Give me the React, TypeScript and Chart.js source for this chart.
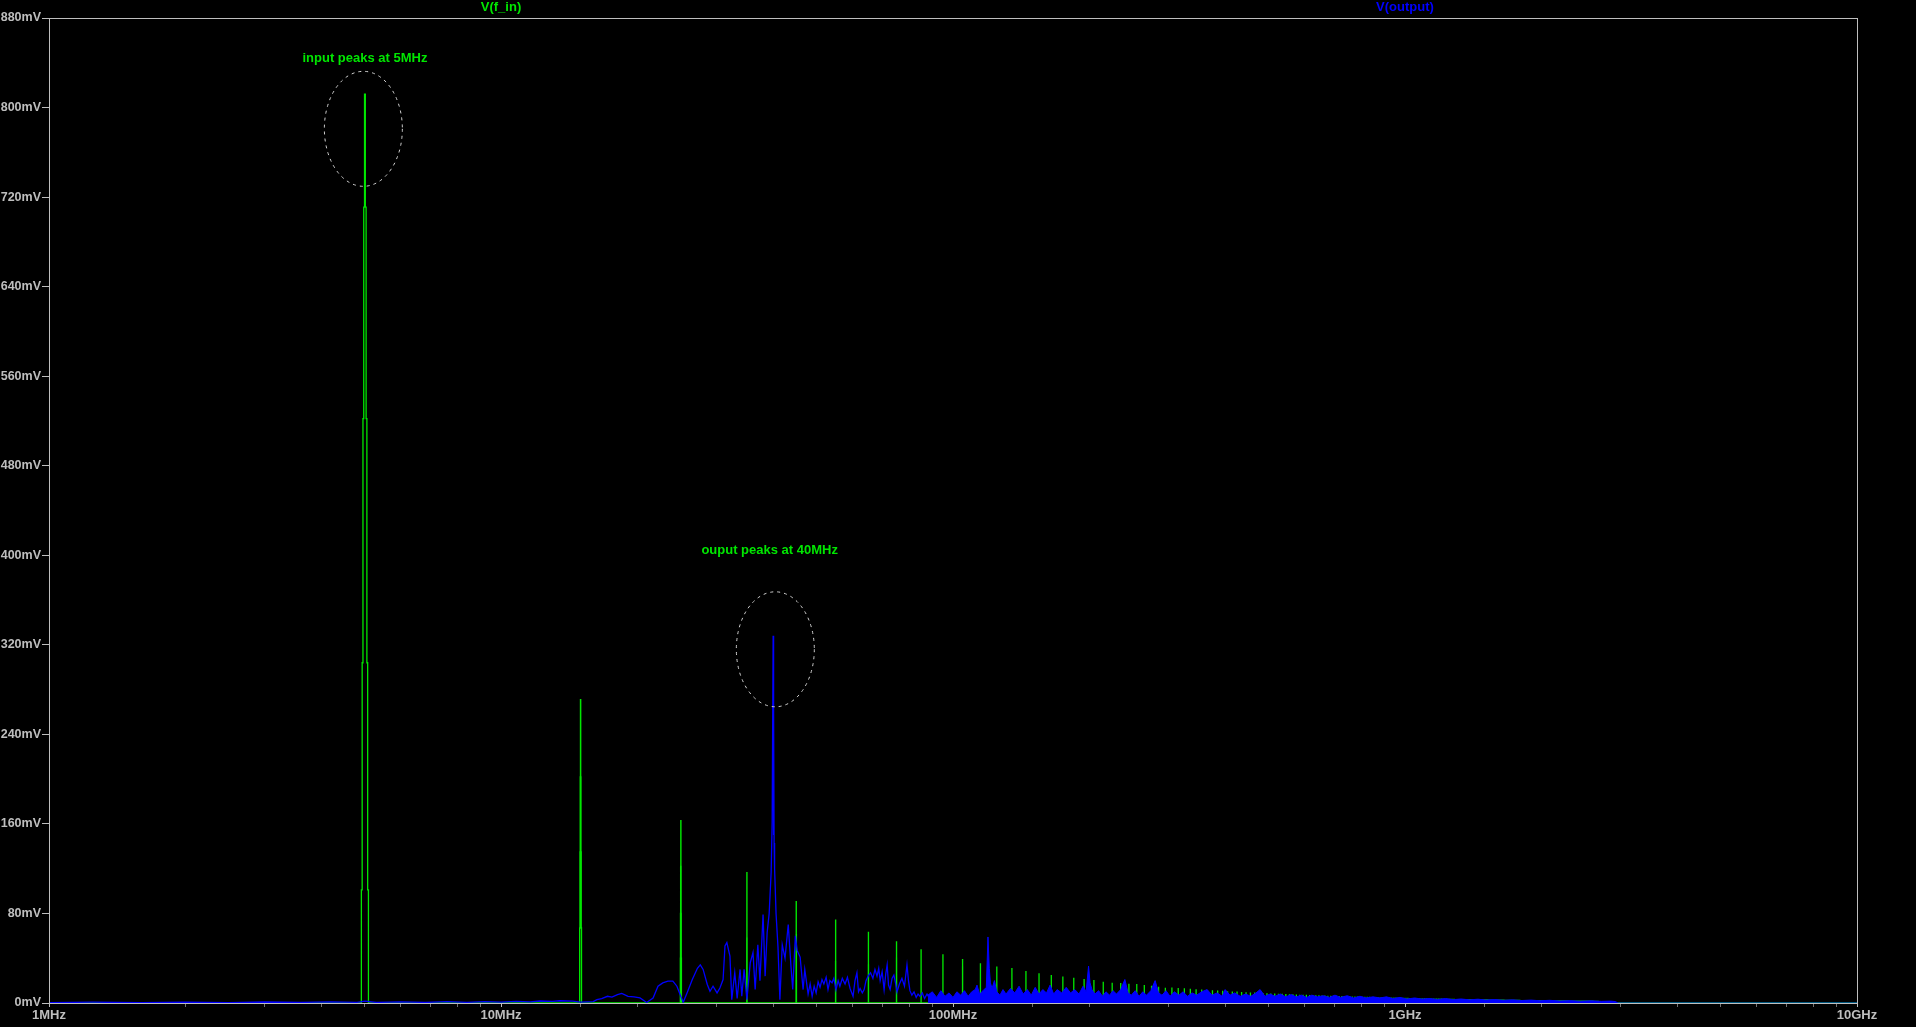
import React, { useEffect, useRef } from 'react';
import { Chart, registerables } from 'chart.js';

Chart.register(...registerables);

// ---------------- data ----------------
const X_MIN_MHZ = 1;
const X_MAX_MHZ = 10000;

// x-axis tick labels (values in MHz)
const xTickValues = [1, 10, 100, 1000, 10000];
const xTickLabels = ['1MHz', '10MHz', '100MHz', '1GHz', '10GHz'];

// y-axis ticks (mV)
const yTickValues = [0, 80, 160, 240, 320, 400, 480, 560, 640, 720, 800, 880];

// V(f_in): square-wave input, odd harmonics of the fundamental
const FUNDAMENTAL_MHZ = 5;
const BIN_MHZ = 0.02;
// peak height (mV) of harmonic 1, 3, 5, 7, ...
const greenPeaks = [
  812, 271, 163, 116.5, 90.6, 74, 63, 54.5, 47.5, 43, 38.7, 35, 32, 30.7, 28, 26, 24.4, 23, 22, 20.8,
  19.9, 18.5, 17.6, 17.2, 16.7, 16.4, 15.5, 14.9, 14, 13.1, 13.3, 12.9, 12.5, 12.1, 11.8, 11.4, 11.1, 10.8, 10.5, 10.3,
  10.0, 9.8, 9.6, 9.3, 9.1, 8.9, 8.7, 8.5, 8.4, 8.2,
  8.0, 7.9, 7.7, 7.6, 7.4, 7.3, 7.2, 7.1, 6.9, 6.8, 6.7, 6.6, 6.5, 6.4, 6.3, 6.2, 6.1, 6.0, 5.9, 5.8,
  5.8, 5.7, 5.6, 5.5, 5.4, 5.4, 5.3, 5.2, 5.2, 5.1, 5.0, 5.0, 4.9, 4.9, 4.8, 4.7, 4.7, 4.6, 4.6, 4.5,
  4.5, 4.4, 4.4, 4.3, 4.3, 4.3, 4.2, 4.2, 4.1, 4.1,
  4.0, 4.0, 3.9, 3.9, 3.9, 3.8, 3.8, 3.8, 3.7, 3.7, 3.7, 3.6, 3.6, 3.6, 3.5, 3.5, 3.5, 3.5, 3.4, 3.4,
  3.4, 3.3, 3.3, 3.3, 3.3, 3.2, 3.2, 3.2, 3.2, 3.1, 3.1, 3.1, 3.1, 3.0, 3.0, 3.0, 3.0, 3.0, 2.9, 2.9,
  2.9, 2.9, 2.9, 2.8, 2.8, 2.8, 2.8, 2.8, 2.7, 2.7,
  2.7, 2.7, 2.7, 2.6, 2.6, 2.6, 2.6, 2.6, 2.6, 2.5, 2.5, 2.5, 2.5, 2.5, 2.5, 2.5, 2.4, 2.4, 2.4, 2.4,
  2.4, 2.4, 2.3, 2.3, 2.3, 2.3, 2.3, 2.3, 2.3, 2.3, 2.2, 2.2, 2.2, 2.2, 2.2, 2.2, 2.2, 2.2, 2.1, 2.1,
  2.1, 2.1, 2.1, 2.1, 2.1, 2.1, 2.1, 2.0, 2.0, 2.0,
  2.0, 2.0, 2.0, 2.0, 2.0, 2.0, 2.0, 1.9, 1.9, 1.9, 1.9, 1.9, 1.9, 1.9, 1.9, 1.9, 1.9, 1.8, 1.8, 1.8,
  1.8, 1.8, 1.8, 1.8, 1.8, 1.8, 1.8, 1.8, 1.8, 1.8, 1.7, 1.7, 1.7, 1.7, 1.7, 1.7, 1.7, 1.7, 1.7, 1.7,
  1.7, 1.7, 1.7, 1.7, 1.7, 1.7, 1.6, 1.6, 1.6, 1.6,
  1.6, 1.6, 1.6, 1.6, 1.6, 1.6, 1.6, 1.6, 1.6, 1.6, 1.6, 1.5, 1.5, 1.5, 1.5, 1.5, 1.5, 1.5,
];
// neighbouring FFT bins (mV), nearest first, for the first harmonics
const greenShoulders = [
  [711, 522, 304, 101],
  [202, 135, 67],
  [122, 80, 40],
  [58],
  [61, 20],
  [37],
  [34],
  [40],
  [],
  [],
  [32],
];

// V(output): spectrum below ~90 MHz (drawn as a line)
const blueLowFreqs = [
  1.0, 1.25, 1.6, 2.0, 2.5, 3.0, 3.6, 4.2, 4.8, 5.0, 5.3, 6.0, 6.8, 7.6, 8.4, 9.2, 10.0, 10.8, 11.6, 12.2,
  13.0, 13.5, 14.4, 15.0, 16.0, 16.3, 16.7, 17.2, 17.6, 18.1, 18.5, 19.1, 19.7, 20.3, 21.0, 21.7, 22.25, 22.8, 23.4, 24.0,
  24.5, 24.9, 25.3, 25.8, 26.5, 27.2, 27.6, 28.0, 28.6, 29.0, 29.45, 30.06, 30.5, 31.0, 31.3, 31.6, 32.1, 32.4, 32.9, 33.3,
  33.8, 34.1, 34.5, 35.0, 35.6, 36.1, 36.5, 37.0, 37.4, 38.0, 38.4, 38.8, 39.2, 39.6, 39.8, 40.0, 40.07, 40.12, 40.2, 40.3,
  40.6, 41.0, 41.4, 41.9, 42.5, 43.2, 43.8, 44.2, 44.8, 45.2, 45.9, 46.6, 47.0, 47.8, 48.3, 48.8, 49.3, 49.8, 50.3, 50.8,
  51.3, 51.8, 52.4, 52.9, 53.4, 54.0, 54.5, 55.1, 55.7, 56.2, 56.9, 57.7, 58.4, 59.2, 60.1, 60.7, 61.3, 61.8, 62.3, 63.0,
  63.6, 64.2, 64.9, 65.7, 66.5, 67.2, 67.9, 68.5, 69.0, 69.7, 70.4, 71.0, 71.5, 72.0, 72.6, 73.3, 74.0, 74.6, 75.2, 76.1,
  77.1, 78.1, 79.1, 79.7, 80.3, 81.1, 82.0, 82.9, 83.7, 84.5, 85.5, 86.5, 87.6, 88.5,
];
const blueLowValues = [
  0.4, 0.7, 0.3, 0.8, 0.4, 0.9, 0.5, 1.0, 0.6, 1.6, 0.5, 1.0, 0.5, 1.2, 0.6, 1.3, 0.7, 1.5, 1.0, 1.8,
  1.5, 2.0, 1.6, 0.8, 1.2, 3.0, 4.0, 6.0, 5.2, 7.5, 8.5, 6.0, 5.5, 4.5, 0.5, 4.5, 15, 18, 19.5, 19.5,
  15, 7.5, 0.6, 9, 21, 31, 34, 30, 16.5, 10.5, 15, 9, 13.4, 21, 51, 54, 42, 3, 27, 4,
  30, 6, 30, 3, 36, 45, 12, 52, 20, 79, 24, 63, 80, 117, 161, 328, 150, 259, 143, 120,
  80, 50, 3, 52, 40, 70, 33, 12, 60, 47, 41, 12, 30, 8, 17, 6, 15, 9, 19, 14,
  21, 17, 23, 12, 20, 18, 22, 12, 20, 15, 22, 17, 23, 13, 6, 20, 27, 10, 13, 9,
  12, 20, 24, 27, 22, 30, 24, 31, 20, 28, 12, 26, 34, 16, 12, 22, 25, 18, 10, 17,
  22, 15, 34, 20, 11, 7, 10, 5, 8, 6, 9, 4, 8, 5,
];

// V(output): dense spectrum above ~90 MHz (drawn filled)
const blueHighFreqs = [
  88, 90, 92, 94, 96, 98, 100, 102, 104, 106, 108, 110, 112, 113, 114.5, 116.5, 118.5, 119.5, 120.3, 121,
  122, 123.5, 125, 127, 129, 131, 134, 137, 140, 143, 146, 149, 152, 155, 158, 161, 164, 167, 170, 174,
  178, 182, 186, 190, 194, 197, 199.5, 201, 203, 206, 210, 214, 218, 222, 226, 230, 235, 240, 244, 248,
  253, 258, 263, 268, 274, 280, 285, 290, 296, 302, 309, 316, 323, 330, 338, 346, 355, 365, 374, 384,
  394, 400, 410, 420, 432, 444, 456, 468, 478, 490, 503, 516, 530, 545, 560, 575, 590, 606, 622, 640,
  660, 680, 700, 720, 745, 770, 795, 820, 850, 880, 910, 940, 975, 1010, 1050, 1090, 1130, 1180, 1230, 1280,
  1330, 1390, 1450, 1510, 1580, 1650, 1730, 1810, 1900, 1990, 2090, 2200, 2320, 2440, 2580, 2720, 2850, 2920, 2960, 10000,
];
const blueHighValues = [
  7, 10, 5, 11, 6, 9, 5, 10, 7, 11, 6, 10, 12, 16, 8, 11, 14, 59, 31, 18,
  13, 20, 10, 7, 12, 8, 13, 9, 15, 8, 12, 7, 14, 8, 12, 9, 16, 8, 12, 9,
  14, 9, 12, 8, 15, 10, 33, 18, 12, 8, 11, 6, 10, 7, 11, 8, 12, 21, 9, 7,
  11, 6, 10, 7, 11, 20, 9, 7, 11, 6, 10, 7, 10, 6, 9, 7, 10, 12, 7, 9,
  6, 12, 7, 9, 6, 8, 6, 9, 12, 6, 8, 6, 8, 5.5, 7.5, 5.5, 7, 5, 7, 5.5,
  6.5, 5, 7, 5, 6.5, 4.5, 6, 4.5, 5.5, 4.5, 5.5, 4, 5, 3.5, 4.5, 3.5, 4, 3.2, 4, 3,
  3.6, 2.8, 3.4, 2.6, 3.1, 2.4, 2.8, 2.2, 2.6, 2, 2.4, 1.8, 2.1, 1.6, 1.9, 1.5, 1.7, 1.3, 0, 0,
];

// trace names above the plot, placed at a frequency
const traceHeaders = [
  { text: 'V(f_in)', freq: 10, color: '#00e600' },
  { text: 'V(output)', freq: 1000, color: '#0000ff' },
];

// annotations
const noteTexts = ['input peaks at 5MHz', 'ouput peaks at 40MHz'];
const noteFreqs = [5, 39.3];
const noteMv = [844, 404];
const ellipseFreqs = [4.96, 40.45];
const ellipseMv = [781, 316];

// ---------------- styles ----------------
const GREEN = '#00e600';
const BLUE = '#0000ff';
const AXIS = '#bebebe';
const TEXT = '#bebebe';
const FONT_FAMILY = "'Liberation Sans', Arial, sans-serif";

function buildGreen() {
  const pts: { x: number; y: number }[] = [{ x: X_MIN_MHZ, y: 0 }];
  greenPeaks.forEach((peak, i) => {
    const f = FUNDAMENTAL_MHZ * (2 * i + 1);
    const sh = greenShoulders[i] || [];
    const n = sh.length;
    pts.push({ x: f - (n + 1) * BIN_MHZ, y: 0 });
    for (let k = n; k >= 1; k--) pts.push({ x: f - k * BIN_MHZ, y: sh[k - 1] });
    pts.push({ x: f, y: peak });
    for (let k = 1; k <= n; k++) pts.push({ x: f + k * BIN_MHZ, y: sh[k - 1] });
    pts.push({ x: f + (n + 1) * BIN_MHZ, y: 0 });
  });
  pts.push({ x: X_MAX_MHZ, y: 0 });
  return pts;
}

function zip(xs: number[], ys: number[]) {
  return xs.map((x, i) => ({ x, y: ys[i] }));
}

const isDecade = (v: number) => Math.abs(Math.log10(v) - Math.round(Math.log10(v))) < 1e-9;

const overlayPlugin = {
  id: 'ltspiceOverlay',
  afterDatasetsDraw(chart: any) {
    const { ctx, chartArea: a, scales } = chart;
    const x = scales.x;
    const y = scales.y;
    ctx.save();
    // frame
    ctx.strokeStyle = AXIS;
    ctx.lineWidth = 1;
    ctx.strokeRect(
      Math.round(a.left) + 0.5,
      Math.round(a.top) + 0.5,
      Math.round(a.right - a.left),
      Math.round(a.bottom - a.top)
    );
    // dashed ellipses
    ctx.setLineDash([3, 4]);
    ctx.strokeStyle = '#d2d2d2';
    for (let i = 0; i < ellipseFreqs.length; i++) {
      ctx.beginPath();
      ctx.ellipse(x.getPixelForValue(ellipseFreqs[i]), y.getPixelForValue(ellipseMv[i]), 39, 57.5, 0, 0, Math.PI * 2);
      ctx.stroke();
    }
    ctx.setLineDash([]);
    // annotation texts
    ctx.font = `bold 13px ${FONT_FAMILY}`;
    ctx.textAlign = 'center';
    ctx.textBaseline = 'middle';
    ctx.fillStyle = GREEN;
    for (let i = 0; i < noteTexts.length; i++) {
      ctx.fillText(noteTexts[i], x.getPixelForValue(noteFreqs[i]), y.getPixelForValue(noteMv[i]));
    }
    // trace headers
    for (const h of traceHeaders) {
      ctx.fillStyle = h.color;
      ctx.fillText(h.text, x.getPixelForValue(h.freq), a.top - 11);
    }
    ctx.restore();
  },
};

export default function App() {
  const canvasRef = useRef<HTMLCanvasElement | null>(null);

  useEffect(() => {
    const canvas = canvasRef.current;
    if (!canvas) return;
    const chart = new Chart(canvas, {
      type: 'line',
      data: {
        datasets: [
          {
            label: 'V(output) high',
            data: zip(blueHighFreqs, blueHighValues),
            borderColor: BLUE,
            backgroundColor: BLUE,
            borderWidth: 1,
            pointRadius: 0,
            fill: 'origin',
            tension: 0,
            order: 1,
          },
          {
            label: 'V(output)',
            data: zip(blueLowFreqs, blueLowValues),
            borderColor: BLUE,
            borderWidth: 1.3,
            pointRadius: 0,
            fill: false,
            tension: 0,
            order: 1,
          },
          {
            label: 'V(f_in)',
            data: buildGreen(),
            borderColor: GREEN,
            borderWidth: 1.3,
            pointRadius: 0,
            fill: false,
            stepped: 'middle',
            order: 2,
          },
        ],
      },
      options: {
        animation: false,
        responsive: false,
        devicePixelRatio: 1,
        events: [],
        layout: { padding: { top: 18, right: 59, left: 0, bottom: 0 } },
        plugins: { legend: { display: false }, tooltip: { enabled: false } },
        scales: {
          x: {
            type: 'logarithmic',
            min: X_MIN_MHZ,
            max: X_MAX_MHZ,
            afterFit: (s: any) => {
              s.height = 24;
            },
            border: { display: true, color: AXIS, width: 1 },
            grid: {
              display: true,
              drawOnChartArea: false,
              drawTicks: true,
              tickLength: 4,
              color: (c: any) => (c.tick && isDecade(c.tick.value) ? AXIS : '#707070'),
            },
            ticks: {
              autoSkip: false,
              maxRotation: 0,
              minRotation: 0,
              padding: 1,
              color: TEXT,
              font: { family: FONT_FAMILY, size: 13, weight: 'bold' },
              callback: (v: any) => {
                const i = xTickValues.findIndex((t) => Math.abs(t - Number(v)) < 1e-6);
                return i >= 0 ? xTickLabels[i] : '';
              },
            },
          },
          y: {
            type: 'linear',
            min: 0,
            max: 880,
            afterFit: (s: any) => {
              s.width = 49;
            },
            afterBuildTicks: (s: any) => {
              s.ticks = yTickValues.map((v) => ({ value: v }));
            },
            border: { display: true, color: AXIS, width: 1 },
            grid: { display: true, drawOnChartArea: false, drawTicks: true, tickLength: 7, color: AXIS },
            ticks: {
              padding: 1,
              color: TEXT,
              font: { family: FONT_FAMILY, size: 12.5, weight: 'bold' },
              callback: (v: any) => `${v}mV`,
            },
          },
        },
      },
      plugins: [overlayPlugin],
    });
    return () => chart.destroy();
  }, []);

  return (
    <div style={{ position: 'fixed', left: 0, top: 0, width: 1916, height: 1027, background: '#000' }}>
      <canvas ref={canvasRef} width={1916} height={1027} style={{ display: 'block', width: 1916, height: 1027 }} />
    </div>
  );
}
